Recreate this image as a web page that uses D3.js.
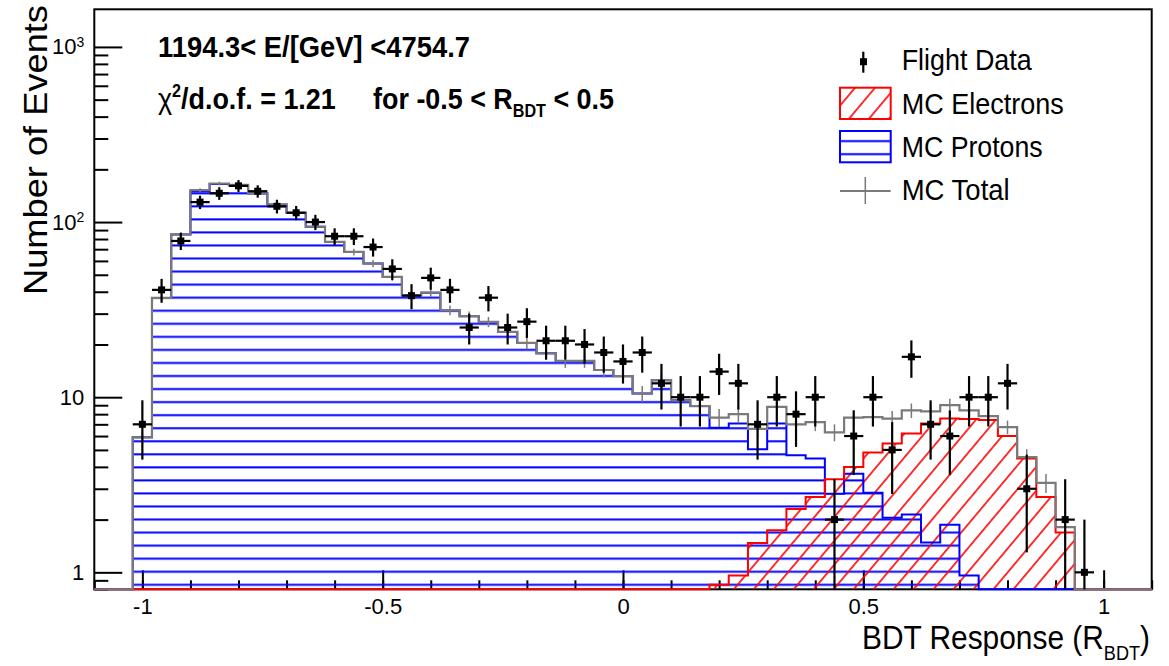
<!DOCTYPE html>
<html>
<head>
<meta charset="utf-8">
<script src="https://d3js.org/d3.v7.min.js"></script>
<style>
  body { margin: 0; background: #fff; }
  text { font-family: "Liberation Sans", Arial, sans-serif; fill: #000; }
  .tick text { font-family: "Liberation Sans", Arial, sans-serif; }
  .tick line { stroke: #000; stroke-width: 2; }
  .domain { display: none; }
</style>
</head>
<body>
<svg width="1169" height="666"></svg>
<script>
// bin centres (bin width 0.04), histogram range -1.1 .. 1.1
const binCenters = [-1, -0.96, -0.92, -0.88, -0.84, -0.8, -0.76, -0.72, -0.68, -0.64,
  -0.6, -0.56, -0.52, -0.48, -0.44, -0.4, -0.36, -0.32, -0.28, -0.24,
  -0.2, -0.16, -0.12, -0.08, -0.04, 0, 0.04, 0.08, 0.12, 0.16,
  0.2, 0.24, 0.28, 0.32, 0.36, 0.4, 0.44, 0.48, 0.52, 0.56,
  0.6, 0.64, 0.68, 0.72, 0.76, 0.8, 0.84, 0.88, 0.92, 0.96];
const binHalf = 0.02;

const flightData = [7, 41, 78, 130, 146, 161, 150, 123, 113, 100,
  83, 83, 72, 54, 38, 48, 41, 25, 37, 25,
  27, 21, 21, 20, 18, 16, 18, 12, 10, 10,
  14, 12, 7, 10, 8, 10, 2, 6, 10, 5,
  17, 7, 6, 10, 10, 12, 3, 0, 2, 1];
const dataErr = [2.6, 6.4, 8.8, 11.4, 12.1, 12.7, 12.2, 11.1, 10.6, 10,
  9.1, 9.1, 8.5, 7.3, 6.2, 6.9, 6.4, 5, 6.1, 5,
  5.2, 4.6, 4.6, 4.5, 4.2, 4, 4.2, 3.5, 3.2, 3.2,
  3.7, 3.5, 2.6, 3.2, 2.8, 3.2, 1.4, 2.4, 3.2, 2.2,
  4.1, 2.6, 2.4, 3.2, 3.2, 3.5, 1.7, 0, 1.4, 1];

const mcProtons = [5.9, 36.9, 85, 150, 165, 162, 146, 126, 113, 94,
  77, 67.5, 58, 48.6, 38.2, 39.5, 31.4, 29, 26.9, 23.6,
  20.4, 17.8, 16.1, 16.1, 14.3, 13.2, 10.5, 12.5, 9.6, 8.9,
  6.7, 7.07, 5.04, 7.07, 4.66, 4.47, 2.81, 3.66, 2.85, 2.05,
  2.14, 1.48, 1.87, 0.96, 0, 0, 0, 0, 0, 0];
const mcElectrons = [0, 0, 0, 0, 0, 0, 0, 0, 0, 0,
  0, 0, 0, 0, 0, 0, 0, 0, 0, 0,
  0, 0, 0, 0, 0, 0, 0, 0, 0, 0,
  0.85, 0.96, 1.47, 1.74, 2.3, 2.69, 3.4, 4.0, 4.83, 5.44,
  6.2, 7.07, 7.56, 7.5, 7.4, 6.0, 4.46, 2.69, 1.69, 0];
const mcTotal = [5.9, 36.9, 85, 152, 166, 163, 146, 126, 113, 94,
  77, 67.5, 58, 48.6, 38.2, 39.5, 31.4, 29, 26.9, 23.6,
  20.4, 17.8, 16.1, 16.1, 14.3, 13.2, 10.5, 12.5, 9.6, 8.9,
  7.65, 8.0, 6.6, 8.8, 7.0, 7.2, 6.3, 7.65, 7.7, 7.55,
  8.4, 8.3, 9.0, 8.4, 7.8, 6.75, 4.55, 3.24, 1.81, 0];
const mcErr = [0.5, 1.5, 2.5, 4, 4, 4, 4, 3.5, 3.5, 3,
  3, 3, 2.8, 2.5, 2.2, 2.2, 2, 1.9, 1.8, 1.7,
  1.6, 1.5, 1.4, 1.4, 1.3, 1.3, 1.1, 1.2, 1, 1,
  0.9, 0.9, 0.8, 0.9, 0.8, 0.8, 0.7, 0.8, 0.8, 0.8,
  0.8, 0.8, 0.8, 0.7, 0.7, 0.6, 0.5, 0.4, 0.3, 0];

const xTicksMajor = [-1, -0.5, 0, 0.5, 1];
const yTicksMajor = [1, 10, 100, 1000];
const legendLabels = ['Flight Data', 'MC Electrons', 'MC Protons', 'MC Total'];
const legendWidths = [130, 162, 141, 108];

const xMin = -1.1, xMax = 1.1, yMin = 0.8, yMax = 1640;
const frame = { left: 94.3, right: 1151.7, top: 9.3, bottom: 589.3 };

const svg = d3.select('svg');
svg.append('rect').attr('width', 1169).attr('height', 666).attr('fill', '#fff');

const x = d3.scaleLinear().domain([xMin, xMax]).range([frame.left, frame.right]);
const y = d3.scaleLog().domain([yMin, yMax]).range([frame.bottom, frame.top]);
const yc = v => y(Math.max(v, yMin));

// hatch patterns (screen fixed, like ROOT fill styles)
const defs = svg.append('defs');
const pH = defs.append('pattern').attr('id', 'pHatch')
  .attr('patternUnits', 'userSpaceOnUse').attr('width', 20).attr('height', 13.05);
pH.append('line').attr('x1', 0).attr('x2', 20).attr('y1', 10.6).attr('y2', 10.6)
  .attr('stroke', '#0000ff').attr('stroke-width', 2);
const eH = defs.append('pattern').attr('id', 'eHatch')
  .attr('patternUnits', 'userSpaceOnUse').attr('width', 15.3).attr('height', 20)
  .attr('patternTransform', 'rotate(40)');
eH.append('line').attr('x1', 7.6).attr('x2', 7.6).attr('y1', 0).attr('y2', 20)
  .attr('stroke', '#ff0000').attr('stroke-width', 1.6);

// frame
svg.append('rect')
  .attr('x', frame.left).attr('y', frame.top)
  .attr('width', frame.right - frame.left).attr('height', frame.bottom - frame.top)
  .attr('fill', 'none').attr('stroke', '#000').attr('stroke-width', 2);

// axes, ticks inside the frame
const xAxisG = svg.append('g').attr('transform', `translate(0,${frame.bottom})`);
xAxisG.append('g').call(d3.axisBottom(x).tickValues(x.ticks(22)).tickSize(-9).tickFormat(''));
xAxisG.append('g').call(d3.axisBottom(x).tickValues(xTicksMajor).tickSize(-19).tickPadding(9)
  .tickFormat(d => String(d)));
xAxisG.selectAll('.tick text').attr('font-size', 22);

const yAxisG = svg.append('g').attr('transform', `translate(${frame.left},0)`);
yAxisG.append('g').call(d3.axisLeft(y)
  .tickValues(y.ticks().filter(d => !yTicksMajor.includes(d)))
  .tickSize(-14).tickFormat(''));
const yMajorG = yAxisG.append('g').call(d3.axisLeft(y).tickValues(yTicksMajor)
  .tickSize(-28).tickPadding(10).tickFormat(d => String(d)));
yMajorG.selectAll('.tick text').attr('font-size', 22).each(function (d) {
  const t = d3.select(this);
  if (d >= 100) {
    t.text(null);
    t.append('tspan').text('10');
    t.append('tspan').attr('dy', '-0.55em').attr('font-size', 14).text(Math.round(Math.log10(d)));
  }
});

// step histogram helpers
function stepPoints(vals) {
  const pts = [[xMin, 0], [binCenters[0] - binHalf, 0]];
  binCenters.forEach((c, i) => {
    pts.push([c - binHalf, vals[i]], [c + binHalf, vals[i]]);
  });
  pts.push([binCenters[binCenters.length - 1] + binHalf, 0], [xMax, 0]);
  return pts;
}
const stepLine = d3.line().x(d => x(d[0])).y(d => yc(d[1]));
const stepArea = d3.area().x(d => x(d[0])).y0(frame.bottom).y1(d => yc(d[1]));

const hist = svg.append('g');
hist.append('path').attr('d', stepArea(stepPoints(mcProtons))).attr('fill', 'url(#pHatch)');
hist.append('path').attr('d', stepArea(stepPoints(mcElectrons))).attr('fill', 'url(#eHatch)');
hist.append('path').attr('d', stepLine(stepPoints(mcProtons)))
  .attr('fill', 'none').attr('stroke', '#0000ff').attr('stroke-width', 2);
hist.append('path').attr('d', stepLine(stepPoints(mcElectrons)))
  .attr('fill', 'none').attr('stroke', '#ff0000').attr('stroke-width', 2);

// MC total
hist.append('path').attr('d', stepLine(stepPoints(mcTotal)))
  .attr('fill', 'none').attr('stroke', '#7a7a7a').attr('stroke-width', 2.2);
hist.selectAll('.mcerr').data(binCenters.map((c, i) => ({ c, v: mcTotal[i], e: mcErr[i] })).filter(d => d.v > 0))
  .join('line').attr('class', 'mcerr')
  .attr('x1', d => x(d.c)).attr('x2', d => x(d.c))
  .attr('y1', d => yc(d.v - d.e)).attr('y2', d => yc(d.v + d.e))
  .attr('stroke', '#7a7a7a').attr('stroke-width', 1.5);

// flight data
const pts = binCenters.map((c, i) => ({ c, n: flightData[i], e: dataErr[i] })).filter(d => d.n > 0);
const dg = svg.append('g');
dg.selectAll('.ev').data(pts).join('line').attr('class', 'ev')
  .attr('x1', d => x(d.c)).attr('x2', d => x(d.c))
  .attr('y1', d => yc(d.n - d.e)).attr('y2', d => yc(d.n + d.e))
  .attr('stroke', '#000').attr('stroke-width', 2.2);
dg.selectAll('.eh').data(pts).join('line').attr('class', 'eh')
  .attr('x1', d => x(d.c - binHalf)).attr('x2', d => x(d.c + binHalf))
  .attr('y1', d => y(d.n)).attr('y2', d => y(d.n))
  .attr('stroke', '#000').attr('stroke-width', 2.2);
dg.selectAll('.mk').data(pts).join('rect').attr('class', 'mk')
  .attr('x', d => x(d.c) - 3.5).attr('y', d => y(d.n) - 3.5)
  .attr('width', 7).attr('height', 7).attr('fill', '#000');

// texts
svg.append('text').attr('x', 158).attr('y', 57)
  .attr('font-size', 30).attr('font-weight', 'bold')
  .attr('textLength', 312).attr('lengthAdjust', 'spacingAndGlyphs')
  .text('1194.3< E/[GeV] <4754.7');
const t2 = svg.append('text').attr('x', 158).attr('y', 109)
  .attr('font-size', 30).attr('font-weight', 'bold').style('white-space', 'pre')
  .attr('textLength', 456).attr('lengthAdjust', 'spacingAndGlyphs');
t2.append('tspan').attr('font-weight', 'normal').text('\u03c7');
t2.append('tspan').attr('font-size', 18).attr('dy', -12).text('2');
t2.append('tspan').attr('dy', 12).text('/d.o.f. = 1.21     for -0.5 < R');
t2.append('tspan').attr('font-size', 18).attr('dy', 8).text('BDT');
t2.append('tspan').attr('dy', -8).text(' < 0.5');

const xt = svg.append('text').attr('x', 862).attr('y', 649)
  .attr('font-size', 33)
  .attr('textLength', 288).attr('lengthAdjust', 'spacingAndGlyphs');
xt.append('tspan').text('BDT Response (R');
xt.append('tspan').attr('font-size', 20).attr('dy', 11).text('BDT');
xt.append('tspan').attr('dy', -11).text(')');

svg.append('text')
  .attr('transform', 'translate(47,5) rotate(-90)')
  .attr('font-size', 33).attr('text-anchor', 'end')
  .attr('textLength', 290).attr('lengthAdjust', 'spacingAndGlyphs')
  .text('Number of Events');

// legend
const lg = svg.append('g');
const rowY = [70, 113.5, 156.5, 199.5];
lg.selectAll('.lt').data(legendLabels).join('text').attr('class', 'lt')
  .attr('x', 901.7).attr('y', (d, i) => rowY[i]).attr('font-size', 29)
  .attr('textLength', (d, i) => legendWidths[i]).attr('lengthAdjust', 'spacingAndGlyphs')
  .text(d => d);
// data symbol
lg.append('line').attr('x1', 863.3).attr('x2', 863.3).attr('y1', 51.7).attr('y2', 72.7)
  .attr('stroke', '#000').attr('stroke-width', 2.2);
lg.append('rect').attr('x', 860).attr('y', 58.2).attr('width', 7).attr('height', 7).attr('fill', '#000');
// electrons box
lg.append('rect').attr('x', 840).attr('y', 87.7).attr('width', 50.7).attr('height', 31.3)
  .attr('fill', 'url(#eHatch)').attr('stroke', '#ff0000').attr('stroke-width', 2);
// protons box
lg.append('rect').attr('x', 840).attr('y', 131).attr('width', 50.7).attr('height', 31.3)
  .attr('fill', 'url(#pHatch)').attr('stroke', '#0000ff').attr('stroke-width', 2);
// MC total symbol
lg.append('line').attr('x1', 840).attr('x2', 890.7).attr('y1', 191).attr('y2', 191)
  .attr('stroke', '#7a7a7a').attr('stroke-width', 2);
lg.append('line').attr('x1', 865.3).attr('x2', 865.3).attr('y1', 177).attr('y2', 204)
  .attr('stroke', '#7a7a7a').attr('stroke-width', 1.5);
</script>
</body>
</html>
